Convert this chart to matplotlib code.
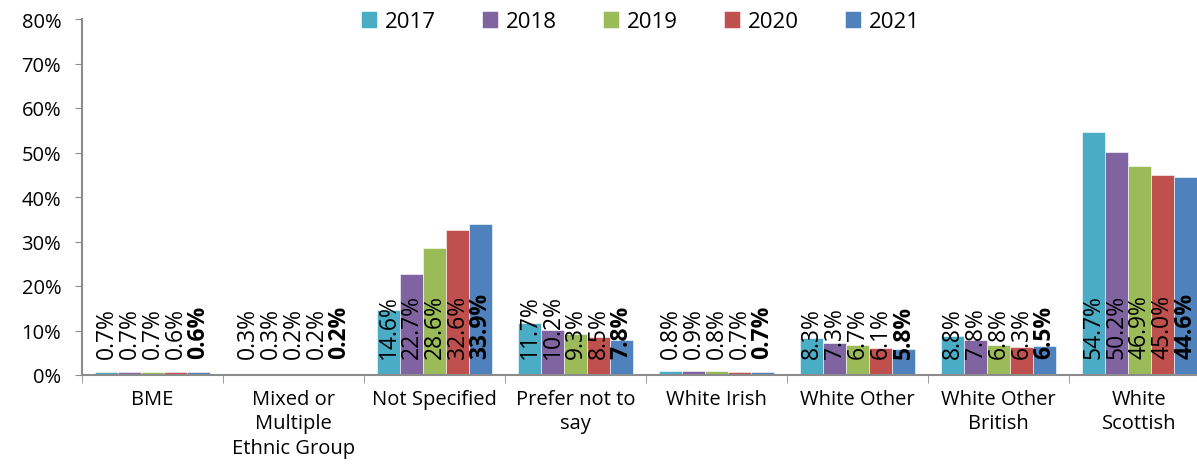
import matplotlib.pyplot as plt
import numpy as np

categories = ["BME", "Mixed or\nMultiple\nEthnic Group", "Not Specified",
              "Prefer not to\nsay", "White Irish", "White Other",
              "White Other\nBritish", "White\nScottish"]
years = ["2017", "2018", "2019", "2020", "2021"]
colors = ["#4BACC6", "#8064A2", "#9BBB59", "#C0504D", "#4F81BD"]

pct_2017 = [0.7, 0.3, 14.6, 11.7, 0.8, 8.3, 8.8, 54.7]
pct_2018 = [0.7, 0.3, 22.7, 10.2, 0.9, 7.3, 7.8, 50.2]
pct_2019 = [0.7, 0.2, 28.6, 9.3, 0.8, 6.7, 6.8, 46.9]
pct_2020 = [0.6, 0.2, 32.6, 8.5, 0.7, 6.1, 6.3, 45.0]
pct_2021 = [0.6, 0.2, 33.9, 7.8, 0.7, 5.8, 6.5, 44.6]
series = [pct_2017, pct_2018, pct_2019, pct_2020, pct_2021]

plt.rcParams['font.family'] = ['Open Sans', 'DejaVu Sans']

fig = plt.figure(figsize=(11.97, 4.77), dpi=100)
ax = fig.add_axes([82/1197, 101/477, 1 - 82/1197, 356/477])

x = np.arange(len(categories))
w = 0.163
for k, (vals, col, yr) in enumerate(zip(series, colors, years)):
    pos = x + (k - 2) * w
    ax.bar(pos, vals, w, color=col, label=yr, edgecolor='white', linewidth=0.4)
    for px, v in zip(pos, vals):
        ax.annotate(f"{v:.1f}%", (px, 0), xytext=(0, 12), textcoords='offset points',
                    rotation=90, ha='center', va='bottom', fontsize=16.5,
                    fontweight='bold' if k == 4 else 'normal')

ax.set_ylim(0, 80)
ax.set_yticks(range(0, 81, 10))
ax.set_yticklabels([f"{t}%" for t in range(0, 81, 10)], fontsize=14.5)
ax.set_xlim(-0.5, 7.5 - 13/141)
ax.set_xticks(x)
ax.set_xticklabels(categories, fontsize=14.5, linespacing=1.3, va='top')
ax.set_xticks(np.arange(-0.5, 7.5, 1.0), minor=True)
ax.tick_params(axis='x', which='major', length=0, pad=10)
ax.tick_params(axis='x', which='minor', length=6, color='#8c8c8c', direction='out')
ax.tick_params(axis='y', length=5, color='#8c8c8c', direction='out', pad=10)

for s in ['top', 'right']:
    ax.spines[s].set_visible(False)
for s in ['left', 'bottom']:
    ax.spines[s].set_color('#8c8c8c')
    ax.spines[s].set_linewidth(1.5)

fig.legend(loc='center', bbox_to_anchor=(0.535, 0.953), ncol=5, frameon=False,
           fontsize=16, handlelength=0.7, handleheight=0.85, handletextpad=0.35,
           columnspacing=2.1)

fig.savefig('out.png', dpi=100)
